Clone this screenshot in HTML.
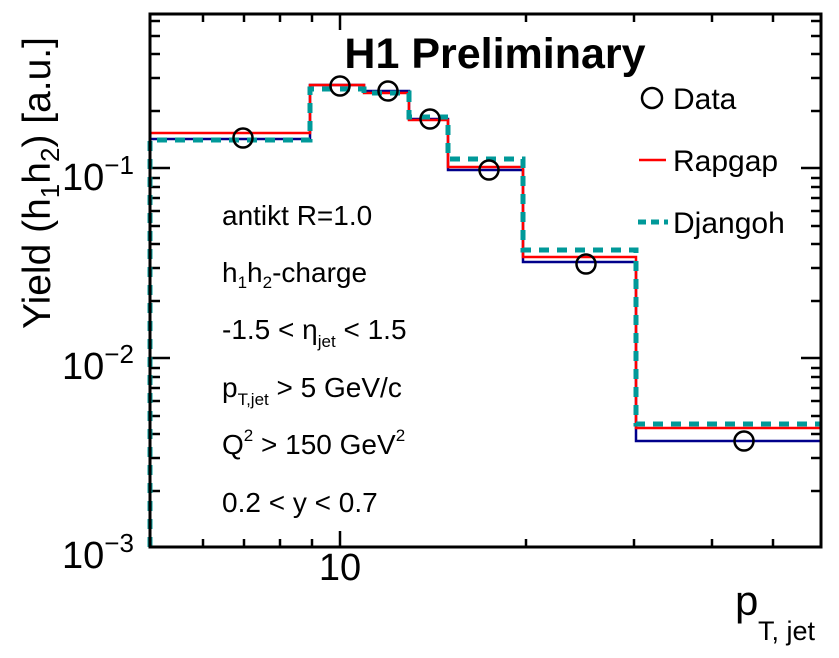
<!DOCTYPE html>
<html><head><meta charset="utf-8"><style>
html,body{margin:0;padding:0;background:#fff;}
svg{display:block;font-family:"Liberation Sans",Arial,sans-serif;}
</style></head><body>
<svg width="839" height="658" viewBox="0 0 839 658" xmlns="http://www.w3.org/2000/svg">
<rect width="839" height="658" fill="#fff"/>
<g stroke="#000" stroke-width="2.5">
<line x1="150" y1="168" x2="170" y2="168"/><line x1="821" y1="168" x2="801" y2="168"/>
<line x1="150" y1="358" x2="170" y2="358"/><line x1="821" y1="358" x2="801" y2="358"/>
<g id="ym">
<line x1="150" y1="301" x2="160" y2="301"/><line x1="150" y1="268" x2="160" y2="268"/>
<line x1="150" y1="244" x2="160" y2="244"/><line x1="150" y1="226" x2="160" y2="226"/>
<line x1="150" y1="211" x2="160" y2="211"/><line x1="150" y1="198" x2="160" y2="198"/>
<line x1="150" y1="187" x2="160" y2="187"/><line x1="150" y1="178" x2="160" y2="178"/>
<line x1="150" y1="491" x2="160" y2="491"/><line x1="150" y1="458" x2="160" y2="458"/>
<line x1="150" y1="434" x2="160" y2="434"/><line x1="150" y1="416" x2="160" y2="416"/>
<line x1="150" y1="401" x2="160" y2="401"/><line x1="150" y1="388" x2="160" y2="388"/>
<line x1="150" y1="377" x2="160" y2="377"/><line x1="150" y1="368" x2="160" y2="368"/>
<line x1="150" y1="111" x2="160" y2="111"/><line x1="150" y1="78" x2="160" y2="78"/>
<line x1="150" y1="54" x2="160" y2="54"/><line x1="150" y1="36" x2="160" y2="36"/>
<line x1="150" y1="21" x2="160" y2="21"/>
</g>
<g transform="translate(971,0) scale(-1,1)">
<line x1="150" y1="301" x2="160" y2="301"/><line x1="150" y1="268" x2="160" y2="268"/>
<line x1="150" y1="244" x2="160" y2="244"/><line x1="150" y1="226" x2="160" y2="226"/>
<line x1="150" y1="211" x2="160" y2="211"/><line x1="150" y1="198" x2="160" y2="198"/>
<line x1="150" y1="187" x2="160" y2="187"/><line x1="150" y1="178" x2="160" y2="178"/>
<line x1="150" y1="491" x2="160" y2="491"/><line x1="150" y1="458" x2="160" y2="458"/>
<line x1="150" y1="434" x2="160" y2="434"/><line x1="150" y1="416" x2="160" y2="416"/>
<line x1="150" y1="401" x2="160" y2="401"/><line x1="150" y1="388" x2="160" y2="388"/>
<line x1="150" y1="377" x2="160" y2="377"/><line x1="150" y1="368" x2="160" y2="368"/>
<line x1="150" y1="111" x2="160" y2="111"/><line x1="150" y1="78" x2="160" y2="78"/>
<line x1="150" y1="54" x2="160" y2="54"/><line x1="150" y1="36" x2="160" y2="36"/>
<line x1="150" y1="21" x2="160" y2="21"/>
</g>
<line x1="340" y1="547" x2="340" y2="531"/><line x1="340" y1="14" x2="340" y2="30"/>
<line x1="203" y1="547" x2="203" y2="539"/><line x1="244" y1="547" x2="244" y2="539"/>
<line x1="280" y1="547" x2="280" y2="539"/><line x1="312" y1="547" x2="312" y2="539"/>
<line x1="526" y1="547" x2="526" y2="539"/><line x1="634" y1="547" x2="634" y2="539"/>
<line x1="712" y1="547" x2="712" y2="539"/><line x1="773" y1="547" x2="773" y2="539"/>
<line x1="203" y1="14" x2="203" y2="22"/><line x1="244" y1="14" x2="244" y2="22"/>
<line x1="280" y1="14" x2="280" y2="22"/><line x1="312" y1="14" x2="312" y2="22"/>
<line x1="526" y1="14" x2="526" y2="22"/><line x1="634" y1="14" x2="634" y2="22"/>
<line x1="712" y1="14" x2="712" y2="22"/><line x1="773" y1="14" x2="773" y2="22"/>
</g>
<polyline fill="none" stroke="#00008b" stroke-width="2.5" points="150,547 150,139 310,139 310,85 364,85 364,91 409,91 409,119 448,119 448,170 523,170 523,262 636,262 636,441 821,441"/>
<polyline fill="none" stroke="#ff0000" stroke-width="2.5" points="150,547 150,133 310,133 310,85 364,85 364,93 409,93 409,120 448,120 448,167 523,167 523,257 636,257 636,428 821,428"/>
<polyline fill="none" stroke="#009999" stroke-width="5" stroke-dasharray="10,8" points="150,547 150,140 310,140 310,89 364,89 364,93 409,93 409,117 448,117 448,159 523,159 523,250 636,250 636,424 821,424"/>
<g fill="none" stroke="#000" stroke-width="2.5">
<circle cx="243" cy="138" r="9.5"/><circle cx="340" cy="86" r="9.5"/><circle cx="388" cy="91" r="9.5"/>
<circle cx="430" cy="119" r="9.5"/><circle cx="489" cy="170" r="9.5"/><circle cx="586" cy="264" r="9.5"/>
<circle cx="744" cy="441" r="9.5"/>
</g>
<rect x="150" y="14" width="671" height="533" fill="none" stroke="#000" stroke-width="3"/>
<text x="495" y="68" font-size="43" font-weight="bold" text-anchor="middle">H1 Preliminary</text>
<circle cx="652" cy="98" r="10" fill="none" stroke="#000" stroke-width="2.5"/>
<text x="673" y="109" font-size="30">Data</text>
<line x1="639" y1="160" x2="666" y2="160" stroke="#ff0000" stroke-width="2.5"/>
<text x="673" y="171" font-size="30">Rapgap</text>
<line x1="638" y1="222" x2="668" y2="222" stroke="#009999" stroke-width="5" stroke-dasharray="8,5"/>
<text x="673" y="233" font-size="30">Djangoh</text>
<g font-size="28">
<text x="222" y="225">antikt R=1.0</text>
<text x="222" y="282">h<tspan font-size="17" dy="6">1</tspan><tspan dy="-6">h</tspan><tspan font-size="17" dy="6">2</tspan><tspan dy="-6">-charge</tspan></text>
<text x="222" y="339">-1.5 &lt; η<tspan font-size="17" dy="8">jet</tspan><tspan dy="-8"> &lt; 1.5</tspan></text>
<text x="222" y="397">p<tspan font-size="17" dy="8">T,jet</tspan><tspan dy="-8"> &gt; 5 GeV/c</tspan></text>
<text x="222" y="454">Q<tspan font-size="17" dy="-13">2</tspan><tspan dy="13"> &gt;  150 GeV</tspan><tspan font-size="17" dy="-13">2</tspan></text>
<text x="222" y="512">0.2 &lt; y &lt; 0.7</text>
</g>
<g font-size="38">
<text x="62" y="190">10<tspan font-size="26" dy="-16">−1</tspan></text>
<text x="62" y="379">10<tspan font-size="26" dy="-16">−2</tspan></text>
<text x="62" y="568">10<tspan font-size="26" dy="-16">−3</tspan></text>
<text x="340" y="580" text-anchor="middle">10</text>
</g>
<text transform="translate(50,183) rotate(-90)" font-size="39" text-anchor="middle">Yield (h<tspan font-size="26" dy="9">1</tspan><tspan dy="-9">h</tspan><tspan font-size="26" dy="9">2</tspan><tspan dy="-9">)  [a.u.]</tspan></text>
<text x="735" y="615" font-size="42">p<tspan font-size="27" x="758" y="640">T, jet</tspan></text>
</svg>
</body></html>
